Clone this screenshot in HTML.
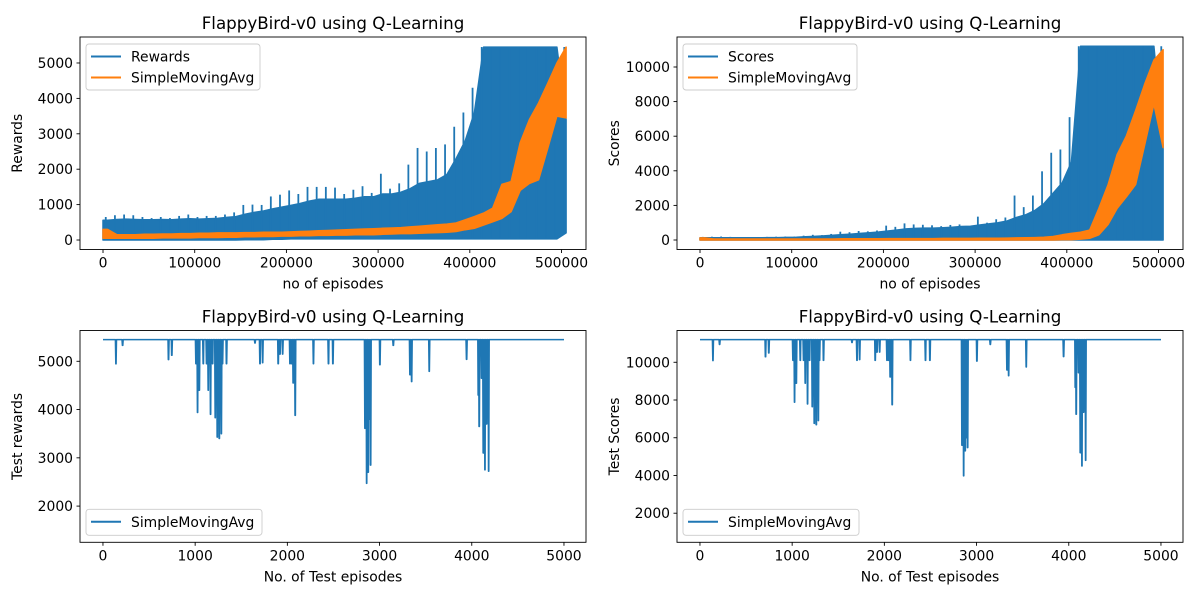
<!DOCTYPE html>
<html><head><meta charset="utf-8">
<style>
html,body{margin:0;padding:0;background:#fff;}
svg{display:block;font-family:"DejaVu Sans","Liberation Sans",sans-serif;}
</style></head>
<body>
<svg id="fig" width="1200" height="600" viewBox="0 0 1200 600" xmlns="http://www.w3.org/2000/svg"></svg>
<script>
// ---------- Data (training, binned per 10000 episodes) ----------
const binSize = 10000;
const lastEpisode = 505000;
const rewardsUpper = [650,700,720,700,650,620,650,620,680,720,650,680,680,720,780,990,1000,990,1230,1280,1400,1300,1500,1500,1500,1480,1300,1420,1520,1330,1870,1450,1600,2130,2600,2500,2600,2700,3200,3600,4300,5450,5450,5450,5450,5450,5450,5450,5450,5450,5450];
const rewardsBody = [560,580,590,580,570,570,580,570,590,600,590,600,610,640,660,730,780,820,880,930,980,1030,1100,1150,1150,1150,1150,1180,1220,1220,1300,1300,1350,1450,1600,1650,1700,1850,2300,2800,3600,5450,5450,5450,5450,5450,5450,5450,5450,5450,3400];
const rewardsLower = [0,0,0,0,0,0,0,0,0,0,0,0,0,0,0,10,10,10,20,20,30,30,30,30,30,30,30,30,30,30,30,30,30,30,30,30,30,30,30,30,30,30,30,30,30,30,30,30,30,30,200];
const rewardsSmaHigh = [300,150,150,150,160,160,170,170,180,180,190,190,200,200,200,210,210,220,220,220,230,240,250,260,270,280,290,300,310,320,330,340,350,370,390,410,430,450,480,570,660,760,900,1570,1650,2750,3400,3870,4430,5000,5450];
const rewardsSmaLow = [50,50,50,50,50,50,60,60,60,60,70,70,70,80,80,90,90,100,100,110,110,120,120,130,130,140,140,150,150,150,160,170,180,180,190,200,210,220,240,290,330,420,515,610,800,1400,1600,1700,2600,3500,3450];
const scoresUpper = [180,190,200,180,170,160,170,180,190,200,200,250,300,280,350,480,450,520,500,550,830,760,960,900,880,850,800,870,900,780,1350,1000,1200,1300,2570,1900,2570,3970,5040,5230,7100,11200,11200,11200,11200,11200,11200,11200,11200,11200,11200];
const scoresBody = [130,130,130,130,130,130,130,140,140,150,160,190,210,240,270,310,340,380,420,460,520,580,640,670,690,690,710,740,780,800,870,930,1000,1100,1300,1450,1700,2100,2700,3300,4500,11200,11200,11200,11200,11200,11200,11200,11200,11200,5500];
const scoresLower = [0,0,0,0,0,0,0,0,0,0,0,0,0,0,0,0,0,0,0,0,0,0,0,0,0,0,0,0,0,0,0,0,0,0,0,0,0,0,0,0,0,0,0,0,0,0,0,0,0,0,0];
const scoresSmaHigh = [120,60,60,60,60,60,60,60,60,60,60,60,60,60,60,70,70,70,70,70,80,80,80,80,80,80,90,90,90,90,100,100,100,110,120,130,140,160,200,300,380,450,570,1830,3200,4950,6020,7480,9030,10400,11000];
const scoresSmaLow = [0,0,0,0,0,0,0,0,0,0,0,0,0,0,0,0,0,0,0,0,0,0,0,0,0,0,0,0,0,0,0,0,0,0,0,0,0,0,0,10,20,50,100,300,900,1830,2500,3200,5530,7860,5340];

// ---------- Data (test runs: baseline with dips) ----------
const testEpisodes = 5000;
const testRewardBase = 5450;
const testScoreBase = 11200;
const dipEpisodes = [141,213,711,747,1009,1026,1045,1088,1124,1142,1167,1189,1218,1240,1262,1284,1297,1340,1649,1703,1732,1901,1920,1949,2028,2046,2063,2085,2283,2446,2494,2842,2860,2877,2888,2903,3004,3149,3330,3348,3539,3944,4071,4081,4107,4125,4143,4161,4183];
const dipRewards = [4945,5330,5035,5125,4950,3940,4400,4950,4950,4400,3900,4950,3830,3430,3400,3500,4950,4950,5380,4950,4970,4950,5150,5150,4950,4950,4550,3880,4950,4950,4950,3610,2470,2700,3800,2850,4930,5330,4720,4580,4790,5040,4300,3650,4650,3100,2750,3700,2720];
const dipScores = [10090,10940,10290,10490,10100,7880,8890,10100,10100,8890,7790,10100,7640,6760,6690,6910,10100,10100,11050,10100,10140,10100,10540,10540,10100,10100,9220,7750,10100,10100,10100,5600,3980,5300,6000,5480,10060,10940,9590,9290,9750,10300,8670,7240,9440,5200,4500,7350,4800];

const trainXTicks = [0,100000,200000,300000,400000,500000];
const rewardYTicks = [0,1000,2000,3000,4000,5000];
const scoreYTicks = [0,2000,4000,6000,8000,10000];
const testXTicks = [0,1000,2000,3000,4000,5000];
const testRewardYTicks = [2000,3000,4000,5000];
const testScoreYTicks = [2000,4000,6000,8000,10000];

const BLUE = '#1f77b4', ORANGE = '#ff7f0e';
const NS = 'http://www.w3.org/2000/svg';
const fig = document.getElementById('fig');

function mk(tag, attrs, parent, text) {
  const e = document.createElementNS(NS, tag);
  for (const k in attrs) e.setAttribute(k, attrs[k]);
  if (text !== undefined) e.textContent = text;
  (parent || fig).appendChild(e);
  return e;
}

function makeAxes(name, box, xd, yd) {
  const g = mk('g', {});
  
  
  const sx = v => box.l + (v - xd[0]) / (xd[1] - xd[0]) * (box.r - box.l);
  const sy = v => box.b - (v - yd[0]) / (yd[1] - yd[0]) * (box.b - box.t);
  const clipId = 'clip-' + name;
  const cp = mk('clipPath', {id: clipId}, g);
  mk('rect', {x: box.l, y: box.t, width: box.r - box.l, height: box.b - box.t}, cp);
  const plot = mk('g', {'clip-path': 'url(#' + clipId + ')'}, g);
  return {g, plot, sx, sy, box};
}

function frame(ax, title, xlabel, ylabel, xt, yt) {
  const b = ax.box, g = ax.g;
  const f = mk('rect', {x: b.l, y: b.t, width: b.r - b.l, height: b.b - b.t, fill: 'none', stroke: '#000', 'stroke-width': 0.9}, g);
  
  
  const xg = mk('g', {}, g);
  
  
  xt.forEach(v => {
    const x = ax.sx(v);
    mk('line', {x1: x, x2: x, y1: b.b, y2: b.b + 3.5, stroke: '#000', 'stroke-width': 0.9}, xg);
    const t = mk('text', {x: x, y: b.b + 18, 'font-size': 13.9, 'text-anchor': 'middle', fill: '#000'}, xg, String(v));
    
    
  });
  const yg = mk('g', {}, g);
  
  
  yt.forEach(v => {
    const y = ax.sy(v);
    mk('line', {x1: b.l - 3.5, x2: b.l, y1: y, y2: y, stroke: '#000', 'stroke-width': 0.9}, yg);
    const t = mk('text', {x: b.l - 7, y: y + 5, 'font-size': 13.9, 'text-anchor': 'end', fill: '#000'}, yg, String(v));
    
    
  });
  const cx = (b.l + b.r) / 2;
  const tt = mk('text', {x: cx, y: b.t - 8, 'font-size': 16.7, 'text-anchor': 'middle', fill: '#000'}, g, title);
  
  
  const xl = mk('text', {x: cx, y: b.b + 39, 'font-size': 13.9, 'text-anchor': 'middle', fill: '#000'}, g, xlabel);
  
  
  const ly = (b.t + b.b) / 2;
  const yl = mk('text', {x: b.l - 58, y: ly, 'font-size': 13.9, 'text-anchor': 'middle', fill: '#000', transform: 'rotate(-90 ' + (b.l - 58) + ' ' + ly + ')'}, g, ylabel);
  
  
}

function legend(ax, entries) {
  const b = ax.box;
  const lg = mk('g', {}, ax.g);
  
  
  const h = entries.length === 2 ? 46 : 26;
  const y0 = entries.length === 2 ? b.t + 7 : b.b - 33;
  const w = entries.length === 2 ? 174 : 176;
  mk('rect', {x: b.l + 6, y: y0, width: w, height: h, rx: 3, fill: '#fff', 'fill-opacity': 0.8, stroke: '#ccc', 'stroke-width': 0.9}, lg);
  entries.forEach((e, i) => {
    const yy = y0 + 12.5 + i * 21;
    const eg = mk('g', {}, lg);
    
    
    mk('line', {x1: b.l + 11, x2: b.l + 41, y1: yy, y2: yy, stroke: e.c, 'stroke-width': 2}, eg);
    mk('text', {x: b.l + 51, y: yy + 5, 'font-size': 13.9, fill: '#000'}, eg, e.t);
  });
}

function binCenter(i) { return Math.min(i * binSize + binSize / 2, lastEpisode); }

function band(ax, upper, lower, color, name) {
  const n = upper.length;
  const pts = [];
  pts.push(ax.sx(0).toFixed(1) + ',' + ax.sy(upper[0]).toFixed(1));
  for (let i = 0; i < n; i++) pts.push(ax.sx(binCenter(i)).toFixed(1) + ',' + ax.sy(upper[i]).toFixed(1));
  pts.push(ax.sx(lastEpisode).toFixed(1) + ',' + ax.sy(upper[n - 1]).toFixed(1));
  pts.push(ax.sx(lastEpisode).toFixed(1) + ',' + ax.sy(lower[n - 1]).toFixed(1));
  for (let i = n - 1; i >= 0; i--) pts.push(ax.sx(binCenter(i)).toFixed(1) + ',' + ax.sy(lower[i]).toFixed(1));
  pts.push(ax.sx(0).toFixed(1) + ',' + ax.sy(lower[0]).toFixed(1));
  const p = mk('polygon', {points: pts.join(' '), fill: color, stroke: color, 'stroke-width': 1.5, 'stroke-linejoin': 'round'}, ax.plot);
  
  
  return p;
}

function spikes(ax, upper, lower, color, name) {
  const g = mk('g', {}, ax.plot);
  
  
  for (let i = 0; i < upper.length; i++) {
    const x = ax.sx(Math.min(i * binSize + binSize * 0.3, lastEpisode));
    const l = mk('line', {x1: x, x2: x, y1: ax.sy(lower[i]), y2: ax.sy(upper[i]), stroke: color, 'stroke-width': 1.8}, g);
    
    
  }
}

function dipLine(ax, base, vals, name) {
  const pts = [[0, base]];
  dipEpisodes.forEach((e, i) => {
    pts.push([e - 6, base]);
    pts.push([e - 2, vals[i]]);
    pts.push([e + 2, vals[i]]);
    pts.push([e + 6, base]);
  });
  pts.push([testEpisodes, base]);
  const d = pts.map((p, i) => (i ? 'L' : 'M') + ax.sx(p[0]).toFixed(1) + ' ' + ax.sy(p[1]).toFixed(1)).join(' ');
  const p = mk('path', {d, fill: 'none', stroke: BLUE, 'stroke-width': 1.5, 'stroke-linejoin': 'round'}, ax.plot);
  
  
}

const TITLE = 'FlappyBird-v0 using Q-Learning';
const trainXD = [-25090, 526700];
const testXD = [-249, 5239];

// Top-left
const a1 = makeAxes('rewards-chart', {l: 80, r: 586, t: 37, b: 249.5}, trainXD, [-268, 5734]);
band(a1, rewardsBody, rewardsLower, BLUE, 'rewards-series');
spikes(a1, rewardsUpper, rewardsLower, BLUE, 'rewards-spikes');
band(a1, rewardsSmaHigh, rewardsSmaLow, ORANGE, 'rewards-sma-series');
frame(a1, TITLE, 'no of episodes', 'Rewards', trainXTicks, rewardYTicks);
legend(a1, [{t: 'Rewards', c: BLUE}, {t: 'SimpleMovingAvg', c: ORANGE}]);

// Top-right
const a2 = makeAxes('scores-chart', {l: 677, r: 1183, t: 37, b: 249.5}, trainXD, [-549, 11734]);
band(a2, scoresBody, scoresLower, BLUE, 'scores-series');
spikes(a2, scoresUpper, scoresLower, BLUE, 'scores-spikes');
band(a2, scoresSmaHigh, scoresSmaLow, ORANGE, 'scores-sma-series');
frame(a2, TITLE, 'no of episodes', 'Scores', trainXTicks, scoreYTicks);
legend(a2, [{t: 'Scores', c: BLUE}, {t: 'SimpleMovingAvg', c: ORANGE}]);

// Bottom-left
const a3 = makeAxes('test-rewards-chart', {l: 80, r: 586, t: 330.5, b: 542.3}, testXD, [1250, 5638]);
dipLine(a3, testRewardBase, dipRewards, 'test-rewards-line');
frame(a3, TITLE, 'No. of Test episodes', 'Test rewards', testXTicks, testRewardYTicks);
legend(a3, [{t: 'SimpleMovingAvg', c: BLUE}]);

// Bottom-right
const a4 = makeAxes('test-scores-chart', {l: 677, r: 1183, t: 330.5, b: 542.3}, testXD, [458, 11684]);
dipLine(a4, testScoreBase, dipScores, 'test-scores-line');
frame(a4, TITLE, 'No. of Test episodes', 'Test Scores', testXTicks, testScoreYTicks);
legend(a4, [{t: 'SimpleMovingAvg', c: BLUE}]);
</script>
</body></html>
